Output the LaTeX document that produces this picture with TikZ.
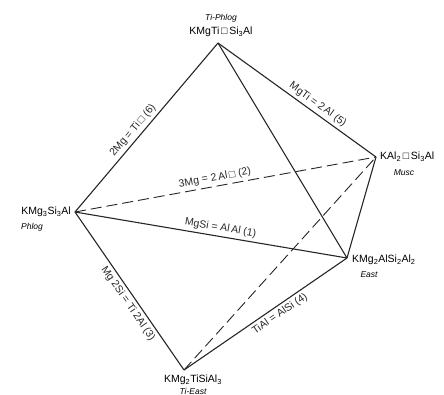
\documentclass[tikz,border=0pt]{standalone}
\usepackage{fontspec}
\setmainfont{Liberation Sans}
\newcommand{\sbs}[1]{\textsubscript{#1}}
\tikzset{
  edge/.style={line width=1.1pt, black!85},
  dashedge/.style={line width=0.9pt, black!85, dash pattern=on 11pt off 5pt},
  formula/.style={font=\fontsize{10.5}{12}\selectfont, inner sep=1pt},
  mineral/.style={font=\fontsize{8.5}{10}\selectfont\itshape, inner sep=1pt},
  rxn/.style={font=\fontsize{10.5}{12}\selectfont, inner sep=3pt, sloped}
}
\begin{document}
\begin{tikzpicture}[x=1pt,y=-1pt]
\useasboundingbox (0,0) rectangle (444,395);
% vertices
\coordinate (ti) at (218,43);
\coordinate (mu) at (376,157);
\coordinate (ph) at (75,212);
\coordinate (ea) at (347,258);
\coordinate (te) at (184,370);
% vertex labels
\node[mineral] (tin) at (221,18) {Ti-Phlog};
\node[formula] (tif) at (221,32) {KMgTi\,□\,Si\sbs{3}Al};
\node[formula, anchor=west] (muf) at (379,157) {KAl\sbs{2}\,□\,Si\sbs{3}Al};
\node[mineral] (mun) at (404,173) {Musc};
\node[formula, anchor=east] (phf) at (72,212) {KMg\sbs{3}Si\sbs{3}Al};
\node[mineral] (phn) at (32,227) {Phlog};
\node[formula, anchor=west] (eaf) at (351,260) {KMg\sbs{2}AlSi\sbs{2}Al\sbs{2}};
\node[mineral] (ean) at (369,275) {East};
\node[formula] (tef) at (193,380) {KMg\sbs{2}TiSiAl\sbs{3}};
\node[mineral] (ten) at (193,391) {Ti-East};
% solid edges
\draw[edge] (ph) -- node[rxn, above, pos=0.45] {2Mg = Ti\,□ (6)} (ti);
\draw[edge] (ti) -- node[rxn, above, pos=0.6] {MgTi = 2\,Al (5)} (mu);
\draw[edge] (ti) -- (ea);
\draw[edge] (mu) -- (ea);
\draw[edge] (ph) -- node[rxn, above, pos=0.53] {MgSi = Al\,Al (1)} (ea);
\draw[edge] (ph) -- node[rxn, below, pos=0.55] {Mg 2Si = Ti 2Al (3)} (te);
\draw[edge] (te) -- node[rxn, below, pos=0.56] {TiAl = AlSi (4)} (ea);
% dashed edges
\draw[dashedge] (ph) -- node[rxn, above, pos=0.47] {3Mg = 2\,Al\,□ (2)} (mu);
\draw[dashedge] (te) -- (mu);
\end{tikzpicture}
\end{document}
